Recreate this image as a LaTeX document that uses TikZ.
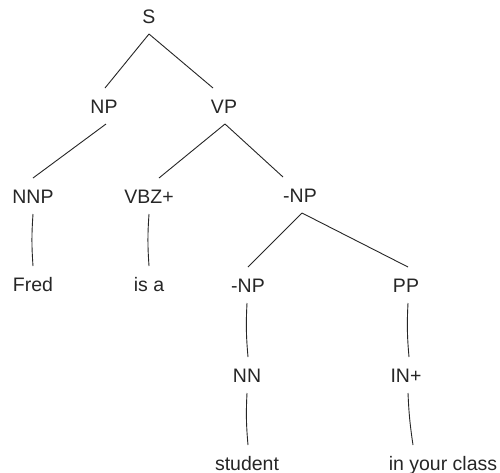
\documentclass[tikz,border=0pt]{standalone}
\usepackage{fontspec}
\setmainfont{Liberation Sans}
\begin{document}
\begin{tikzpicture}[x=1pt,y=-1pt,
  tn/.style={anchor=base,inner xsep=0pt,inner ysep=11pt,outer sep=0pt,
    text height=14pt,text depth=0pt,font=\fontsize{19.5}{22}\selectfont,text=black!85},
  br/.style={draw=black!85,line width=0.9pt}]
\useasboundingbox[fill=white] (0,0) rectangle (500,472);
\node[tn] (S) at (149,23) {S};
\node[tn] (NP) at (104,113) {NP};
\node[tn] (VP) at (224,113) {VP};
\node[tn] (NNP) at (33,203) {NNP};
\node[tn] (VBZ) at (149,203) {VBZ+};
\node[tn] (NPa) at (300,202) {-NP};
\node[tn] (Fred) at (33,291) {Fred};
\node[tn] (isa) at (149,291) {is a};
\node[tn] (NPb) at (248,292) {-NP};
\node[tn] (PP) at (406,292) {PP};
\node[tn] (NN) at (247,382) {NN};
\node[tn] (IN) at (406,382) {IN+};
\node[tn] (student) at (247,470) {student};
\node[tn] (class) at (443,470) {in your class};
\draw[br] (S.south) -- ([xshift=1pt]NP.north);
\draw[br] (S.south) -- ([xshift=-11pt]VP.north);
\draw[br] ([xshift=2pt]NP.south) -- (NNP.north);
\draw[br] ([xshift=1pt]VP.south) -- ([xshift=10pt]VBZ.north);
\draw[br] ([xshift=1pt]VP.south) -- ([xshift=-17pt]NPa.north);
\draw[br] ([xshift=2pt]NPa.south) -- (NPb.north);
\draw[br] ([xshift=2pt]NPa.south) -- ([xshift=2pt]PP.north);
\draw[br] (NNP.south) to[bend right=4] (Fred.north);
\draw[br] (VBZ.south) to[bend right=4] (isa.north);
\draw[br] ([xshift=-1pt]NPb.south) to[bend right=4] ([xshift=1pt]NN.north);
\draw[br] (NN.south) to[bend right=4] ([xshift=1pt]student.north);
\draw[br] ([xshift=2pt]PP.south) to[bend right=4] ([xshift=3pt]IN.north);
\draw[br] ([xshift=2pt]IN.south) to[bend right=3] ([xshift=-30pt]class.north);
\end{tikzpicture}
\end{document}
